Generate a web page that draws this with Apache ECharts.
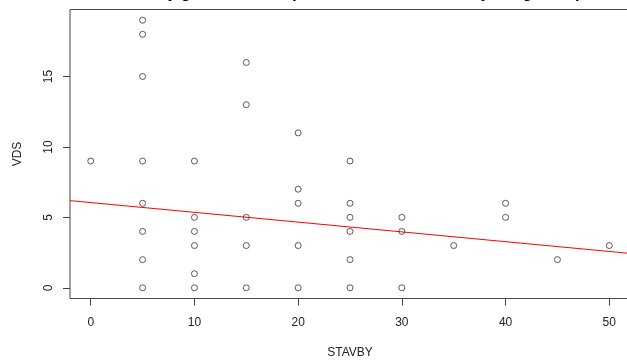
<!DOCTYPE html>
<html>
<head>
<meta charset="utf-8">
<script src="https://cdn.jsdelivr.net/npm/echarts@6/dist/echarts.min.js"></script>
<style>
  html, body { margin: 0; padding: 0; background: #fff; }
  #chart { width: 627px; height: 361px; }
</style>
</head>
<body>
<div id="chart"></div>
<script>
// Age of the building (STAVBY) and count (VDS) for each observation
const stavby = [0,
  5, 5, 5, 5, 5, 5, 5, 5,
  10, 10, 10, 10, 10, 10,
  15, 15, 15, 15, 15,
  20, 20, 20, 20, 20,
  25, 25, 25, 25, 25, 25,
  30, 30, 30,
  35,
  40, 40,
  45,
  50];
const vds = [9,
  19, 18, 15, 9, 6, 4, 2, 0,
  9, 5, 4, 3, 1, 0,
  16, 13, 5, 3, 0,
  11, 7, 6, 3, 0,
  9, 6, 5, 4, 2, 0,
  5, 4, 0,
  3,
  6, 5,
  2,
  3];

// Fitted regression line, end points at the plot edges
const fitX = [-2, 52];
const fitY = [6.19, 2.44];

const xTicks = [0, 10, 20, 30, 40, 50];
const yTicks = [0, 5, 10, 15];

const titleText = 'Graf 1: Bodový graf závislosti počtu VDS na stáří stavby s regresní přímkou';

const points = stavby.map((x, i) => [x, vds[i]]);
const fitLine = fitX.map((x, i) => [x, fitY[i]]);

const font = 'Liberation Sans, Arial, sans-serif';
const chart = echarts.init(document.getElementById('chart'), null, { renderer: 'canvas' });

chart.setOption({
  animation: false,
  backgroundColor: '#ffffff',
  grid: {
    left: 70, top: 9.5, width: 560, height: 289,
    containLabel: false,
    outerBoundsMode: 'none',
    show: true, borderColor: '#444', borderWidth: 1, backgroundColor: 'transparent'
  },
  graphic: [{
    type: 'text',
    x: 350, y: -14,
    style: {
      text: titleText,
      font: 'bold 16px ' + font,
      fill: '#000',
      textAlign: 'center',
      textVerticalAlign: 'top'
    }
  }],
  xAxis: {
    type: 'value',
    min: -2, max: 52,
    name: 'STAVBY',
    nameLocation: 'middle',
    nameGap: 48,
    nameTextStyle: { fontFamily: font, fontSize: 12, color: '#222' },
    axisLine: { show: false, onZero: false },
    axisTick: { show: true, customValues: xTicks, length: 7, lineStyle: { color: '#444' } },
    axisLabel: { customValues: xTicks, margin: 18, fontFamily: font, fontSize: 12, color: '#222' },
    splitLine: { show: false }
  },
  yAxis: {
    type: 'value',
    min: -0.76, max: 19.76,
    name: 'VDS',
    nameLocation: 'middle',
    nameRotate: 90,
    nameGap: 46,
    nameTextStyle: { fontFamily: font, fontSize: 12, color: '#222' },
    axisLine: { show: false, onZero: false },
    axisTick: { show: true, customValues: yTicks, length: 7, lineStyle: { color: '#444' } },
    axisLabel: { customValues: yTicks, rotate: 90, margin: 15, fontFamily: font, fontSize: 12, color: '#222' },
    splitLine: { show: false }
  },
  series: [
    {
      type: 'line',
      data: fitLine,
      symbol: 'none',
      silent: true,
      clip: true,
      lineStyle: { color: '#ff0000', width: 1 },
      z: 1
    },
    {
      type: 'scatter',
      data: points,
      symbol: 'circle',
      symbolSize: 6,
      itemStyle: { color: 'rgba(255,255,255,0)', borderColor: '#333', borderWidth: 1 },
      z: 2
    }
  ]
});
</script>
</body>
</html>
